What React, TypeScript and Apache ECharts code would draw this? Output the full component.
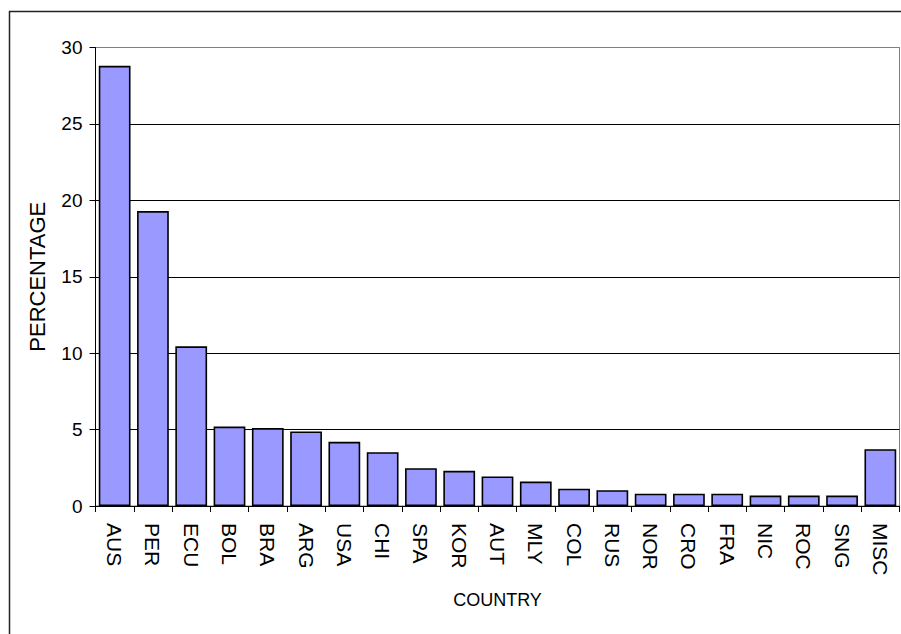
import React, { useEffect, useRef } from "react";
import * as echarts from "echarts";

const countries = ["AUS", "PER", "ECU", "BOL", "BRA", "ARG", "USA", "CHI", "SPA", "KOR", "AUT", "MLY", "COL", "RUS", "NOR", "CRO", "FRA", "NIC", "ROC", "SNG", "MISC"];
const percentages = [28.8, 19.3, 10.45, 5.2, 5.1, 4.88, 4.2, 3.52, 2.47, 2.3, 1.93, 1.6, 1.13, 1.03, 0.8, 0.8, 0.8, 0.68, 0.68, 0.68, 3.72];
const yTicks = { min: 0, max: 30, interval: 5 };
const xName = "COUNTRY";
const yName = "PERCENTAGE";

export default function App() {
  const ref = useRef<HTMLDivElement>(null);
  useEffect(() => {
    if (!ref.current) return;
    const chart = echarts.init(ref.current, undefined, { renderer: "svg" });
    const font = "'Liberation Sans', Arial, sans-serif";
    chart.setOption({
      animation: false,
      backgroundColor: "#ffffff",
      textStyle: { fontFamily: font },
      graphic: [
        {
          type: "rect",
          shape: { x: 9.5, y: 11.5, width: 900, height: 640 },
          style: { fill: "none", stroke: "#222", lineWidth: 1.5 },
          silent: true,
        },
      ],
      grid: {
        left: 95.5,
        top: 47.5,
        right: 1.5,
        bottom: 128,
        show: true,
        borderColor: "#808080",
        borderWidth: 1,
        containLabel: false,
      },
      xAxis: {
        type: "category",
        data: countries,
        name: xName,
        nameLocation: "middle",
        nameGap: 85,
        nameTextStyle: { fontSize: 18, color: "#000", fontFamily: font },
        axisLine: { lineStyle: { color: "#000", width: 1 } },
        axisTick: { show: true, length: 6, alignWithLabel: false, lineStyle: { color: "#000" } },
        axisLabel: {
          rotate: -90,
          fontSize: 21,
          color: "#000",
          margin: 17,
          interval: 0,
          fontFamily: font,
        },
        splitLine: { show: false },
      },
      yAxis: {
        type: "value",
        min: yTicks.min,
        max: yTicks.max,
        interval: yTicks.interval,
        name: yName,
        nameLocation: "middle",
        nameGap: 47,
        nameRotate: 90,
        nameTextStyle: { fontSize: 22, color: "#000", fontFamily: font },
        axisLine: { show: true, lineStyle: { color: "#000", width: 1 } },
        axisTick: { show: true, length: 6, lineStyle: { color: "#000" } },
        axisLabel: { fontSize: 19, color: "#000", margin: 13, fontFamily: font },
        splitLine: {
          show: true,
          lineStyle: { color: ["#000", "#000", "#000", "#000", "#000", "#000", "#808080"], width: 1 },
        },
      },
      series: [
        {
          type: "bar",
          data: percentages,
          barCategoryGap: "17%",
          itemStyle: { color: "#9999FF", borderColor: "#000", borderWidth: 1.6 },
        },
      ],
    });
    return () => chart.dispose();
  }, []);
  return <div ref={ref} style={{ position: "fixed", left: 0, top: 0, width: 901, height: 634 }} />;
}
